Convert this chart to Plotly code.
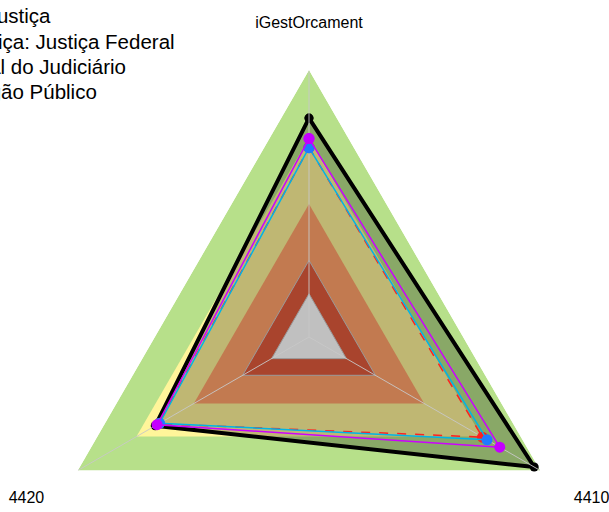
import plotly.graph_objects as go

categories = ["iGestOrcament", "4410", "4420"]

# background bands (value reached by each coloured zone)
band_levels = [1.0, 0.746, 0.498, 0.287, 0.162]
band_colors = ["#B7E08A", "#FFF59A", "#C27A50", "#A9442D", "#C0C0C0"]
band_edges = [None, None, None, "#9A9A9A", "#9A9A9A"]

series_names = ["Justiça", "Justiça: Justiça Federal", "Total do Judiciário", "Órgão Público"]
series_values = [
    [0.82, 0.974, 0.665],
    [0.71, 0.75, 0.65],
    [0.709, 0.77, 0.646],
    [0.743, 0.825, 0.657],
]
series_line_colors = ["#000000", "#FF2020", "#00B4E6", "#CC00FF"]
series_marker_colors = ["#000000", "#FF2020", "#1E7BFF", "#C400FF"]
series_dash = ["solid", "dash", "solid", "solid"]

theta_closed = categories + categories[:1]

fig = go.Figure()


def band(level, color, edge):
    fig.add_trace(go.Scatterpolar(
        r=[level] * len(theta_closed), theta=theta_closed,
        mode="lines", fill="toself", fillcolor=color,
        line=dict(width=1 if edge else 0, color=edge or color),
        hoverinfo="skip", showlegend=False))


band(band_levels[0], band_colors[0], band_edges[0])
band(band_levels[1], band_colors[1], band_edges[1])

# main (black) series with translucent fill
vals = series_values[0] + series_values[0][:1]
fig.add_trace(go.Scatterpolar(
    r=vals, theta=theta_closed, name=series_names[0], legend="legend",
    mode="lines+markers", fill="toself", fillcolor="rgba(0,0,0,0.25)",
    line=dict(color=series_line_colors[0], width=4),
    marker=dict(color=series_marker_colors[0], size=9)))

for lv, col, ed in zip(band_levels[2:], band_colors[2:], band_edges[2:]):
    band(lv, col, ed)

# spokes from the centre to each axis end
for cat in categories:
    fig.add_trace(go.Scatterpolar(
        r=[0, band_levels[0]], theta=[cat, cat], mode="lines",
        line=dict(color="rgba(200,200,200,0.9)", width=1),
        hoverinfo="skip", showlegend=False))

legend_ids = ["legend", "legend2", "legend3", "legend4"]
for i in range(1, 4):
    vals = series_values[i] + series_values[i][:1]
    fig.add_trace(go.Scatterpolar(
        r=vals, theta=theta_closed, name=series_names[i], legend=legend_ids[i],
        mode="lines+markers",
        line=dict(color=series_line_colors[i], width=1.5, dash=series_dash[i]),
        marker=dict(color=series_marker_colors[i], size=11)))

legend_font = dict(size=20.5, color="black")
legend_x = [-0.1785, -0.2277, -0.2250, -0.2155]
legend_y = [1.1400, 1.0918, 1.0450, 0.9981]
legend_layout = {}
for lid, lx, ly in zip(legend_ids, legend_x, legend_y):
    legend_layout[lid] = dict(x=lx, y=ly, xanchor="left", yanchor="top",
                              font=legend_font, bgcolor="rgba(0,0,0,0)")

fig.update_layout(
    width=609, height=604,
    margin=dict(l=42, r=33, t=70, b=0, autoexpand=False),
    paper_bgcolor="white",
    font=dict(family="Liberation Sans, Arial, sans-serif", color="black"),
    showlegend=True,
    polar=dict(
        gridshape="linear",
        bgcolor="rgba(0,0,0,0)",
        radialaxis=dict(range=[0, 1], showline=False, showticklabels=False,
                        ticks="", showgrid=False),
        angularaxis=dict(direction="clockwise", rotation=90, showline=False,
                         ticks="outside", ticklen=35, tickcolor="rgba(0,0,0,0)",
                         showgrid=False,
                         tickfont=dict(size=16, color="black")),
    ),
    **legend_layout,
)

fig.write_html(
    "out.html",
    config={"displayModeBar": False},
    post_script=("document.documentElement.style.overflow='hidden';"
                 "document.body.style.overflow='hidden';"
                 "document.body.style.margin='0';"),
)
